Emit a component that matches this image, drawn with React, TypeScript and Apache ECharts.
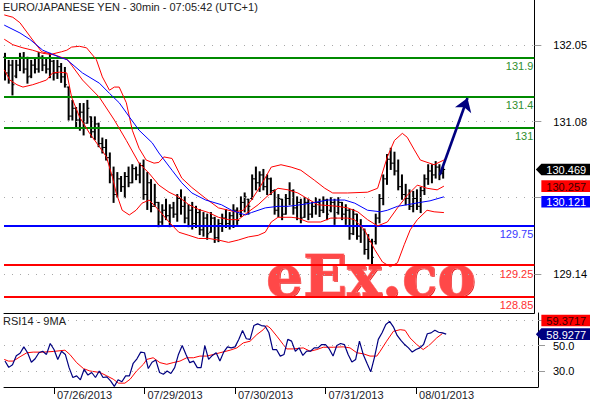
import React, { useEffect, useRef } from "react";
import * as echarts from "echarts";

// ---------- texts ----------
const TITLE = "EURO/JAPANESE YEN - 30min - 07:05:42 (UTC+1)";
const RSI_TITLE = "RSI14 - 9MA";
const WATERMARK = "eEx.co";

// ---------- axes ----------
// x = trading hours counted from 07/25/2013 00:00 (weekend removed)
const X_MIN = 10.74;
const X_MAX = 152.35;
const dayHours = [24, 48, 72, 96, 120];
const dayLabels = ["07/26/2013", "07/29/2013", "07/30/2013", "07/31/2013", "08/01/2013"];
const PRICE_MIN = 128.64;
const PRICE_MAX = 132.63;
const priceTicks = [129.14, 130.11, 131.08, 132.05];
const priceLabelTicks = [129.14, 131.08, 132.05];
const RSI_MIN = 17.7;
const RSI_MAX = 75.4;
const rsiTicks = [30, 50, 70];
const rsiLabelTicks = [30, 50];

// ---------- horizontal levels ----------
const greenLevels = [131.9, 131.4, 131];
const blueLevels = [129.75];
const redLevels = [129.25, 128.85];

// ---------- last values ----------
const lastPrice = 130.469;
const lastBandMid = 130.257;
const lastBlueMa = 130.121;
const lastRsi = 58.9277;
const lastRsiMa = 59.3717;

// ---------- projection arrow ----------
const arrowFrom = [127.1, 130.4];
const arrowTo = [134.5, 131.38];

// ---------- hourly OHLC bars ----------
const barHours = [
  11, 12, 13, 14, 15, 16, 17, 18, 19, 20,
  21, 22, 23, 24, 25, 26, 27, 28, 29, 30,
  31, 32, 33, 34, 35, 36, 37, 38, 39, 40,
  41, 42, 43, 44, 45, 46, 47, 48, 49, 50,
  51, 52, 53, 54, 55, 56, 57, 58, 59, 60,
  61, 62, 63, 64, 65, 66, 67, 68, 69, 70,
  71, 72, 73, 74, 75, 76, 77, 78, 79, 80,
  81, 82, 83, 84, 85, 86, 87, 88, 89, 90,
  91, 92, 93, 94, 95, 96, 97, 98, 99, 100,
  101, 102, 103, 104, 105, 106, 107, 108, 109, 110,
  111, 112, 113, 114, 115, 116, 117, 118, 119, 120,
  121, 122, 123, 124, 125, 126, 127, 128,
];
const opens = [
  131.90, 131.70, 131.80, 131.66, 131.80, 131.90, 131.75, 131.66, 131.80, 131.75,
  131.90, 131.80, 131.75, 131.85, 131.70, 131.78, 131.65, 131.52, 131.15, 131.25,
  131.10, 131.20, 131.06, 131.14, 130.95, 131.05, 130.80, 130.75, 130.62, 130.40,
  130.15, 130.35, 130.25, 130.38, 130.30, 130.48, 130.40, 130.52, 130.15, 130.30,
  130.00, 130.05, 129.80, 129.95, 129.88, 129.98, 129.90, 130.10, 130.00, 129.85,
  129.95, 129.78, 129.92, 129.70, 129.85, 129.67, 129.85, 129.60, 129.78, 129.85,
  129.78, 129.88, 129.95, 129.90, 130.05, 130.09, 130.10, 130.35, 130.30, 130.40,
  130.25, 130.35, 130.20, 129.95, 130.09, 129.90, 130.10, 130.20, 129.98, 130.05,
  129.86, 130.05, 129.90, 130.00, 130.05, 129.95, 130.08, 129.95, 130.05, 129.92,
  130.05, 129.90, 129.95, 129.65, 129.90, 129.62, 129.70, 129.45, 129.55, 129.55,
  129.85, 130.10, 130.35, 130.60, 130.55, 130.45, 130.25, 130.15, 130.10, 130.00,
  130.10, 130.00, 130.20, 130.35, 130.45, 130.40, 130.50, 130.42,
];
const highs = [
  131.95, 131.86, 131.86, 131.86, 131.95, 131.96, 131.90, 131.86, 131.89, 131.96,
  131.92, 131.89, 131.95, 131.86, 131.86, 131.82, 131.77, 131.52, 131.35, 131.26,
  131.31, 131.31, 131.35, 131.14, 131.14, 131.06, 130.87, 130.85, 130.68, 130.50,
  130.43, 130.38, 130.43, 130.50, 130.53, 130.50, 130.55, 130.59, 130.43, 130.34,
  130.28, 130.05, 130.02, 130.09, 130.02, 130.05, 130.15, 130.21, 130.12, 130.02,
  130.05, 130.00, 129.96, 129.92, 129.90, 129.92, 129.86, 129.83, 129.90, 129.96,
  129.92, 130.02, 129.98, 130.12, 130.17, 130.09, 130.40, 130.50, 130.44, 130.47,
  130.40, 130.36, 130.21, 130.15, 130.09, 130.15, 130.30, 130.21, 130.12, 130.09,
  130.11, 130.09, 130.05, 130.11, 130.09, 130.12, 130.09, 130.11, 130.09, 130.11,
  130.05, 130.02, 129.96, 129.96, 129.90, 129.83, 129.71, 129.64, 129.58, 129.90,
  130.15, 130.40, 130.66, 130.74, 130.69, 130.59, 130.40, 130.28, 130.21, 130.19,
  130.21, 130.24, 130.40, 130.53, 130.53, 130.57, 130.53, 130.50,
];
const lows = [
  131.61, 131.57, 131.42, 131.64, 131.73, 131.70, 131.57, 131.64, 131.70, 131.71,
  131.73, 131.70, 131.64, 131.61, 131.63, 131.58, 131.52, 131.10, 131.10, 131.01,
  130.97, 130.91, 131.06, 130.88, 130.85, 130.76, 130.68, 130.59, 130.30, 130.05,
  130.12, 130.19, 130.11, 130.25, 130.30, 130.34, 130.30, 130.09, 129.96, 129.93,
  130.00, 129.74, 129.77, 129.83, 129.74, 129.86, 129.81, 129.90, 129.79, 129.74,
  129.71, 129.73, 129.64, 129.62, 129.58, 129.67, 129.54, 129.55, 129.68, 129.73,
  129.71, 129.73, 129.77, 129.87, 129.93, 129.90, 130.09, 130.21, 130.19, 130.21,
  130.15, 130.15, 129.90, 129.87, 129.83, 129.90, 130.02, 129.90, 129.83, 129.79,
  129.86, 129.83, 129.86, 129.90, 129.87, 129.92, 129.83, 129.93, 129.77, 129.90,
  129.83, 129.77, 129.58, 129.64, 129.58, 129.54, 129.39, 129.33, 129.26, 129.52,
  129.79, 130.02, 130.28, 130.47, 130.40, 130.21, 130.09, 130.02, 129.96, 129.93,
  129.96, 129.92, 130.15, 130.28, 130.30, 130.36, 130.34, 130.36,
];
const closes = [
  131.70, 131.80, 131.55, 131.80, 131.90, 131.75, 131.65, 131.80, 131.75, 131.90,
  131.80, 131.75, 131.85, 131.70, 131.78, 131.65, 131.55, 131.15, 131.25, 131.10,
  131.20, 131.00, 131.25, 130.95, 131.05, 130.80, 130.75, 130.62, 130.40, 130.15,
  130.35, 130.25, 130.38, 130.30, 130.48, 130.40, 130.52, 130.15, 130.30, 130.00,
  130.05, 129.80, 129.95, 129.88, 129.98, 129.90, 130.10, 130.00, 129.85, 129.95,
  129.78, 129.92, 129.70, 129.85, 129.65, 129.85, 129.60, 129.78, 129.85, 129.78,
  129.88, 129.95, 129.82, 130.05, 130.12, 130.00, 130.35, 130.30, 130.40, 130.25,
  130.35, 130.20, 129.95, 130.10, 129.90, 130.10, 130.20, 129.98, 130.05, 129.85,
  130.05, 129.90, 130.00, 130.05, 129.95, 130.08, 129.90, 130.05, 129.85, 130.05,
  129.90, 129.95, 129.65, 129.90, 129.62, 129.75, 129.45, 129.55, 129.35, 129.85,
  130.10, 130.35, 130.60, 130.55, 130.45, 130.25, 130.15, 130.10, 130.00, 130.10,
  130.00, 130.20, 130.35, 130.45, 130.40, 130.50, 130.42, 130.469,
];

// ---------- RSI14 (per hour, aligned with barHours) ----------
const rsiValues = [
  38.0, 33.0, 35.0, 42.0, 44.0, 49.0, 44.4, 37.0, 39.7, 44.4,
  45.6, 43.1, 51.6, 46.9, 39.2, 45.6, 43.1, 32.8, 25.1, 26.4,
  23.3, 31.5, 27.0, 29.0, 25.1, 30.2, 25.1, 25.6, 22.5, 18.2,
  23.3, 21.8, 26.4, 26.4, 36.2, 39.7, 44.9, 44.4, 32.1, 37.0,
  38.7, 29.0, 27.7, 30.2, 28.2, 32.8, 43.1, 50.0, 43.1, 36.7,
  37.9, 32.8, 32.8, 50.0, 39.2, 42.3, 44.4, 37.9, 44.9, 49.0,
  48.2, 49.0, 54.8, 61.7, 55.3, 54.8, 65.6, 66.9, 65.6, 65.1,
  60.0, 46.9, 46.9, 41.8, 43.1, 54.8, 53.5, 45.6, 48.2, 42.3,
  45.6, 45.6, 48.2, 48.2, 50.8, 50.8, 47.4, 41.8, 50.0, 51.6,
  50.8, 43.1, 37.2, 39.2, 53.5, 43.1, 36.2, 29.5, 41.0, 54.8,
  60.0, 66.4, 68.9, 64.6, 57.9, 54.0, 50.8, 48.2, 44.9, 46.9,
  48.2, 50.8, 59.2, 59.9, 61.9, 60.4, 59.9, 58.93,
];

// ---------- indicator lines, [hour, value] ----------
const bbUpper = [
  [10.8, 132.44], [13.1, 132.41], [15.0, 132.34], [18.4, 132.12], [20.8, 131.97], [23.5, 131.94],
  [26.1, 131.97], [27.5, 131.99], [28.8, 132.03], [30.9, 132.04], [32.8, 132.02], [35.4, 131.87],
  [37.0, 131.65], [38.9, 131.48], [40.2, 131.52], [41.5, 131.52], [43.4, 131.32], [45.0, 130.97],
  [46.8, 130.74], [48.7, 130.59], [50.8, 130.55], [52.1, 130.56], [53.4, 130.63], [55.6, 130.61],
  [58.2, 130.36], [60.9, 130.24], [64.6, 130.10], [68.0, 129.98], [72.5, 129.93], [74.7, 129.95],
  [76.8, 130.08], [79.4, 130.27], [82.1, 130.50], [84.7, 130.53], [87.4, 130.50], [90.0, 130.46],
  [93.7, 130.33], [96.4, 130.23], [98.5, 130.17], [102.5, 130.17], [107.8, 130.18], [110.5, 130.23],
  [113.1, 130.63], [115.0, 130.84], [117.1, 130.93], [118.4, 130.88], [120.3, 130.72], [121.9, 130.59],
  [125.6, 130.53], [128.2, 130.59],
];
const bbMiddle = [
  [10.8, 132.13], [13.1, 132.06], [15.8, 132.02], [18.4, 131.99], [21.1, 131.95], [24.3, 131.93],
  [27.7, 131.87], [31.7, 131.61], [36.2, 131.39], [40.2, 131.10], [43.4, 130.84], [46.8, 130.55],
  [49.5, 130.42], [52.1, 130.27], [54.8, 130.18], [57.4, 130.12], [60.1, 130.02], [62.7, 129.96],
  [65.4, 129.92], [68.0, 129.86], [70.7, 129.83], [73.3, 129.83], [76.0, 129.93], [78.6, 130.02],
  [81.3, 130.14], [83.9, 130.23], [86.6, 130.21], [89.2, 130.17], [94.5, 130.02], [99.8, 130.00],
  [102.5, 129.98], [105.2, 129.93], [107.8, 129.83], [110.5, 129.75], [113.1, 129.80], [115.8, 129.98],
  [118.4, 130.14], [121.1, 130.27], [123.7, 130.23], [126.4, 130.21], [128.2, 130.257],
];
const bbLower = [
  [10.8, 131.74], [12.3, 131.61], [14.2, 131.55], [15.8, 131.52], [18.4, 131.55], [20.3, 131.58],
  [22.1, 131.61], [23.7, 131.70], [25.6, 131.71], [27.5, 131.70], [28.8, 131.39], [30.9, 131.14],
  [33.6, 130.93], [36.2, 130.76], [38.1, 130.63], [39.7, 130.37], [40.7, 130.17], [42.3, 129.95],
  [44.2, 129.89], [46.0, 129.95], [47.6, 130.04], [49.5, 130.08], [52.1, 129.95], [54.8, 129.80],
  [57.4, 129.67], [60.1, 129.63], [62.7, 129.59], [65.4, 129.59], [68.0, 129.57], [70.7, 129.54],
  [73.3, 129.57], [76.0, 129.61], [78.6, 129.63], [80.5, 129.67], [82.1, 129.80], [83.9, 129.86],
  [87.4, 129.86], [89.2, 129.85], [91.9, 129.80], [95.3, 129.80], [98.0, 129.85], [102.5, 129.85],
  [104.3, 129.83], [107.0, 129.70], [109.7, 129.45], [111.8, 129.29], [113.9, 129.23], [115.8, 129.28],
  [117.6, 129.51], [119.2, 129.70], [121.1, 129.83], [123.7, 129.95], [125.6, 129.93], [128.2, 129.92],
];
const maBlue = [
  [10.8, 132.31], [15.0, 132.21], [17.6, 132.13], [21.1, 131.99], [25.6, 131.90], [27.5, 131.87],
  [31.7, 131.70], [36.2, 131.57], [38.9, 131.44], [41.5, 131.32], [44.2, 131.14], [46.8, 130.97],
  [50.3, 130.81], [52.1, 130.68], [55.6, 130.46], [58.2, 130.30], [60.9, 130.17], [64.6, 130.08],
  [68.8, 130.02], [71.5, 129.95], [75.2, 129.89], [76.8, 129.92], [80.5, 129.98], [83.9, 130.00],
  [86.6, 130.00], [90.0, 130.02], [93.7, 130.05], [97.2, 130.08], [101.7, 130.08], [104.4, 130.04],
  [107.8, 129.95], [111.3, 129.93], [113.1, 129.95], [115.8, 130.00], [118.4, 130.02], [121.9, 130.05],
  [124.5, 130.07], [128.2, 130.121],
];
const rsiMa = [
  [10.8, 39.2], [11.9, 37.9], [13.2, 37.9], [15.0, 41.3], [16.8, 44.4], [18.5, 44.9], [21.2, 44.9],
  [23.8, 45.4], [26.9, 46.4], [28.2, 43.1], [30.0, 36.7], [31.8, 32.1], [33.5, 30.2], [36.2, 29.0],
  [38.0, 26.4], [39.7, 23.8], [41.1, 20.7], [42.8, 20.7], [44.2, 23.8], [45.9, 30.2], [47.7, 35.4],
  [48.6, 39.2], [50.3, 40.5], [52.1, 36.7], [53.9, 35.4], [55.6, 36.7], [57.4, 37.9], [59.2, 40.5],
  [61.0, 40.5], [62.7, 41.8], [64.5, 41.8], [66.3, 43.1], [68.0, 44.4], [70.7, 46.4], [72.5, 48.2],
  [74.2, 52.1], [76.0, 53.4], [77.8, 58.6], [79.5, 62.4], [80.4, 65.6], [81.3, 63.8], [83.1, 57.3],
  [84.8, 50.8], [85.7, 47.4], [87.5, 47.4], [90.1, 48.2], [91.9, 45.6], [93.7, 46.9], [95.4, 48.7],
  [98.1, 48.7], [100.7, 49.0], [102.5, 48.2], [104.3, 44.4], [106.0, 43.6], [107.8, 41.8], [109.6, 41.8],
  [110.5, 45.6], [112.2, 53.4], [114.0, 61.1], [115.8, 62.4], [117.1, 61.9], [118.4, 56.0], [120.2, 50.8],
  [121.9, 46.9], [123.7, 50.8], [125.5, 56.0], [127.0, 59.3717],
];

const FONT = "'Liberation Sans', Arial, sans-serif";

function buildOption(): any {
  const bars = barHours.map((h, i) => [h, opens[i], highs[i], lows[i], closes[i]]);
  const rsiLine = barHours.map((h, i) => [h, rsiValues[i]]);
  const dotted = { color: "#a8a8a8", width: 1, type: [1, 7] as any };

  const levelLine = (v: number, line: string, text: string) => ({
    yAxis: v,
    lineStyle: { color: line, width: 2, type: "solid" },
    label: {
      show: true,
      formatter: String(v),
      position: "insideEndBottom",
      color: text,
      fontSize: 11,
      fontFamily: FONT,
      distance: [1, 3],
    },
  });

  return {
    animation: false,
    backgroundColor: "#ffffff",
    textStyle: { fontFamily: FONT },
    grid: [
      { left: 4, top: 0, width: 534, height: 313 },
      { left: 4, top: 313, width: 534, height: 75 },
    ],
    xAxis: [
      {
        type: "value", gridIndex: 0, min: X_MIN, max: X_MAX,
        axisLine: { show: true, onZero: false, lineStyle: { color: "#000", width: 1 } },
        axisTick: { show: false }, axisLabel: { show: false }, splitLine: { show: false },
      },
      {
        type: "value", gridIndex: 1, min: X_MIN, max: X_MAX,
        axisLine: { show: true, onZero: false, lineStyle: { color: "#000", width: 1 } },
        axisTick: { show: true, customValues: dayHours, length: 7, lineStyle: { color: "#000" } },
        axisLabel: {
          show: true, customValues: dayHours,
          formatter: (v: number) => {
            const i = dayHours.indexOf(Math.round(v));
            return i >= 0 ? dayLabels[i] : "";
          },
          align: "left", margin: 2, padding: [0, 0, 0, 3], fontSize: 11, color: "#1a1a2a",
        },
        splitLine: { show: false },
      },
    ],
    yAxis: [
      {
        type: "value", gridIndex: 0, position: "right", min: PRICE_MIN, max: PRICE_MAX,
        axisLine: { show: true, onZero: false, lineStyle: { color: "#000", width: 1 } },
        axisTick: { show: true, customValues: priceTicks, length: 7, lineStyle: { color: "#999" } },
        axisLabel: {
          show: true, customValues: priceLabelTicks,
          formatter: (v: number) => v.toFixed(2), margin: 19, fontSize: 11, color: "#000",
        },
        splitLine: { show: false },
      },
      {
        type: "value", gridIndex: 1, position: "right", min: RSI_MIN, max: RSI_MAX,
        axisLine: { show: true, onZero: false, lineStyle: { color: "#000", width: 1 } },
        axisTick: { show: true, customValues: rsiTicks, length: 7, lineStyle: { color: "#999" } },
        axisLabel: {
          show: true, customValues: rsiLabelTicks,
          formatter: (v: number) => v.toFixed(1), margin: 15, fontSize: 11, color: "#000",
        },
        splitLine: { show: false },
      },
    ],
    series: [
      {
        name: "grid-main",
        type: "line", xAxisIndex: 0, yAxisIndex: 0, data: [], silent: true, z: 1,
        markLine: {
          silent: true, symbol: "none", animation: false,
          label: { show: false },
          data: priceTicks.map((v) => ({ yAxis: v, lineStyle: dotted })),
        },
      },
      {
        name: "levels",
        type: "line", xAxisIndex: 0, yAxisIndex: 0, data: [], silent: true, z: 3,
        markLine: {
          silent: true, symbol: "none", animation: false,
          data: [
            ...greenLevels.map((v) => levelLine(v, "#008a00", "#2f8f2f")),
            ...blueLevels.map((v) => levelLine(v, "#0000ff", "#3a3aff")),
            ...redLevels.map((v) => levelLine(v, "#ff0000", "#ff3030")),
          ],
        },
      },
      {
        name: "bars",
        type: "custom", xAxisIndex: 0, yAxisIndex: 0, z: 4,
        data: bars,
        encode: { x: 0, y: [1, 2, 3, 4] },
        renderItem: (params: any, api: any) => {
          const x = api.value(0);
          const o = api.coord([x, api.value(1)]);
          const hi = api.coord([x, api.value(2)]);
          const lo = api.coord([x, api.value(3)]);
          const c = api.coord([x, api.value(4)]);
          return {
            type: "group",
            children: [
              { type: "line", shape: { x1: hi[0], y1: hi[1] - 0.5, x2: lo[0], y2: lo[1] + 0.5 }, style: { stroke: "#000", lineWidth: 2 } },
              { type: "line", shape: { x1: o[0] - 2, y1: o[1], x2: o[0], y2: o[1] }, style: { stroke: "#000", lineWidth: 1 } },
              { type: "line", shape: { x1: c[0], y1: c[1], x2: c[0] + 2, y2: c[1] }, style: { stroke: "#000", lineWidth: 1 } },
            ],
          };
        },
      },
      {
        name: "BB upper", type: "line", xAxisIndex: 0, yAxisIndex: 0, data: bbUpper, z: 5,
        showSymbol: false, symbol: "none", lineStyle: { color: "#ff0000", width: 1 }, silent: true,
      },
      {
        name: "BB middle", type: "line", xAxisIndex: 0, yAxisIndex: 0, data: bbMiddle, z: 5,
        showSymbol: false, symbol: "none", lineStyle: { color: "#ff0000", width: 1 }, silent: true,
      },
      {
        name: "BB lower", type: "line", xAxisIndex: 0, yAxisIndex: 0, data: bbLower, z: 5,
        showSymbol: false, symbol: "none", lineStyle: { color: "#ff0000", width: 1 }, silent: true,
      },
      {
        name: "MA", type: "line", xAxisIndex: 0, yAxisIndex: 0, data: maBlue, z: 5,
        showSymbol: false, symbol: "none", lineStyle: { color: "#0000ff", width: 1 }, silent: true,
      },
      {
        name: "arrow", type: "line", xAxisIndex: 0, yAxisIndex: 0, data: [], silent: true, z: 6,
        markLine: {
          silent: true, animation: false, symbol: ["none", "arrow"], symbolSize: 13,
          label: { show: false },
          lineStyle: { color: "#000080", width: 2.6, type: "solid" },
          data: [[{ coord: arrowFrom }, { coord: arrowTo }]],
        },
      },
      {
        name: "grid-rsi",
        type: "line", xAxisIndex: 1, yAxisIndex: 1, data: [], silent: true, z: 1,
        markLine: {
          silent: true, symbol: "none", animation: false,
          label: { show: false },
          data: rsiTicks.map((v) => ({ yAxis: v, lineStyle: dotted })),
        },
      },
      {
        name: "RSI MA", type: "line", xAxisIndex: 1, yAxisIndex: 1, data: rsiMa, z: 4,
        showSymbol: false, symbol: "none", lineStyle: { color: "#ff0000", width: 1 }, silent: true,
      },
      {
        name: "RSI", type: "line", xAxisIndex: 1, yAxisIndex: 1, data: rsiLine, z: 5,
        showSymbol: false, symbol: "none", lineStyle: { color: "#000080", width: 1.2 }, silent: true,
      },
    ],
  };
}

export default function App() {
  const ref = useRef<HTMLDivElement>(null);

  useEffect(() => {
    document.body.style.margin = "0";
    const chart = echarts.init(ref.current as HTMLDivElement, null, { renderer: "svg" });
    chart.setOption(buildOption());

    const axisX = chart.convertToPixel({ xAxisIndex: 0 }, X_MAX) as number;
    const py = (v: number) => chart.convertToPixel({ yAxisIndex: 0 }, v) as number;
    const ry = (v: number) => chart.convertToPixel({ yAxisIndex: 1 }, v) as number;

    const boxLeft = axisX + 7;
    const boxRight = 590;
    const BH = 11.6;
    const makeBox = (top: number, text: string, bg: string, fg: string, arrow: boolean, id: string) => {
      const mid = top + BH / 2;
      const pts = arrow
        ? [[axisX + 1.5, mid], [boxLeft, top], [boxRight, top], [boxRight, top + BH], [boxLeft, top + BH]]
        : [[boxLeft, top], [boxRight, top], [boxRight, top + BH], [boxLeft, top + BH]];
      return [
        { type: "polygon", id: id + "-bg", z: 50, shape: { points: pts }, style: { fill: bg } },
        {
          type: "text", id: id + "-tx", z: 51, x: boxLeft + 5, y: mid + 0.5,
          style: { text, fill: fg, font: `11px ${FONT}`, textVerticalAlign: "middle", textAlign: "left" },
        },
      ];
    };

    // main panel value boxes
    const blackTop = py(lastPrice) - BH / 2;
    let redTop = py(lastBandMid) - BH / 2;
    if (redTop < blackTop + BH + 4) redTop = blackTop + BH + 4;
    let blueTop = py(lastBlueMa) - BH / 2;
    if (blueTop < redTop + BH + 4) blueTop = redTop + BH + 4;

    // rsi panel value boxes
    const rsiTop = ry(lastRsi) - BH / 2;
    let rsiMaTop = ry(lastRsiMa) - BH / 2;
    if (rsiMaTop > rsiTop - BH - 2) rsiMaTop = rsiTop - BH - 2;

    chart.setOption({
      graphic: [
        {
          type: "text", id: "watermark-shadow", z: 0, x: 267, y: 277,
          style: {
            text: WATERMARK, font: `bold 58px 'DejaVu Serif', serif`, fill: "#e41414",
            textVerticalAlign: "middle", textAlign: "left",
          },
        },
        {
          type: "text", id: "watermark", z: 0, x: 266, y: 276,
          style: {
            text: WATERMARK, font: `bold 58px 'DejaVu Serif', serif`, fill: "#ff4848",
            stroke: "#ff8a8a", lineWidth: 1, textVerticalAlign: "middle", textAlign: "left",
          },
        },
        {
          type: "text", id: "title", z: 60, x: 3, y: 1,
          style: { text: TITLE, fill: "#222", font: `11px ${FONT}`, textVerticalAlign: "top" },
        },
        {
          type: "text", id: "rsititle", z: 60, x: 3, y: 315,
          style: { text: RSI_TITLE, fill: "#222", font: `11px ${FONT}`, textVerticalAlign: "top" },
        },
        ...makeBox(blackTop, lastPrice.toFixed(3), "#000000", "#ffffff", true, "last"),
        ...makeBox(redTop, lastBandMid.toFixed(3), "#ff0000", "#3a0000", false, "mid"),
        ...makeBox(blueTop, lastBlueMa.toFixed(3), "#0000ff", "#ffffff", false, "ma"),
        ...makeBox(rsiMaTop, lastRsiMa.toFixed(4), "#ff0000", "#3a0000", false, "rsima"),
        ...makeBox(rsiTop, lastRsi.toFixed(4), "#000080", "#ffffff", true, "rsi"),
      ],
    });

    return () => chart.dispose();
  }, []);

  return (
    <div
      ref={ref}
      style={{ position: "absolute", left: 0, top: 0, width: 590, height: 400, background: "#fff" }}
    />
  );
}
